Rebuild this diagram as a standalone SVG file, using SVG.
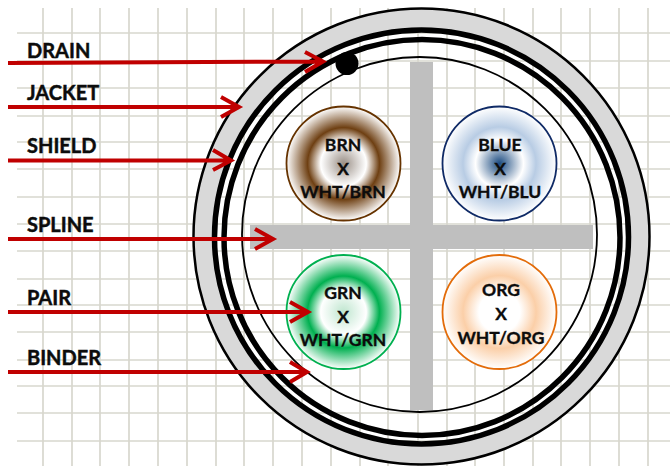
<svg xmlns="http://www.w3.org/2000/svg" width="670" height="466" viewBox="0 0 670 466">
<style>
.g{stroke:#d8d7ce;stroke-width:1.7;fill:none}
.l{font-family:"Lato","Liberation Sans",sans-serif;font-weight:700;font-size:20px;fill:#0c0c0c;stroke:#0c0c0c;stroke-width:.45}
.c{font-family:"Lato","Liberation Sans",sans-serif;font-weight:700;font-size:17.5px;fill:#0c0c0c;stroke:#0c0c0c;stroke-width:.35;text-anchor:middle}
.a{stroke:#c00000;stroke-width:4;fill:none}
</style>
<defs>
<radialGradient id="gb"><stop offset="0" stop-color="#9a8f86"/><stop offset=".4" stop-color="#fff"/><stop offset=".63" stop-color="#6e3f12"/><stop offset="1" stop-color="#fff"/></radialGradient>
<radialGradient id="gu"><stop offset="0" stop-color="#1a4a80"/><stop offset=".42" stop-color="#fff"/><stop offset=".64" stop-color="#b8cce4"/><stop offset="1" stop-color="#fff"/></radialGradient>
<radialGradient id="gg"><stop offset="0" stop-color="#bfe6cf"/><stop offset=".4" stop-color="#fff"/><stop offset=".63" stop-color="#00b050"/><stop offset="1" stop-color="#fff"/></radialGradient>
<radialGradient id="go"><stop offset="0" stop-color="#fff"/><stop offset=".36" stop-color="#fff"/><stop offset=".64" stop-color="#fbcfa8"/><stop offset="1" stop-color="#fff"/></radialGradient>
</defs>
<rect width="670" height="466" fill="#fff"/>
<path class="g" d="M43 8V466M72 8V466M100 8V466M129 8V466M158 8V466M187 8V466M216 8V466M244 8V466M273 8V466M302 8V466M331 8V466M360 8V466M388 8V466M418 8V466M447 8V466M475 8V466M504 8V466M533 8V466M561 8V466M590 8V466M619 8V466M648 8V466M17 33H670M17 61H670M17 88H670M17 116H670M17 142H670M17 169H670M17 197H670M17 224H670M17 251H670M17 279H670M17 305H670M17 332H670M17 360H670M17 386H670M17 413H670M17 441H670"/>
<g id="jacket"><circle cx="421.5" cy="236.5" r="218" fill="none" stroke="#d9d9d9" stroke-width="20"/><circle cx="421.5" cy="236.5" r="228" fill="none" stroke="#000" stroke-width="2.5"/></g>
<g id="shield"><circle cx="421.5" cy="237" r="207" fill="none" stroke="#000" stroke-width="5.5"/><circle cx="422" cy="237.5" r="198" fill="none" stroke="#000" stroke-width="5.5"/></g>
<g id="binder"><circle cx="419.5" cy="234.5" r="177.5" fill="none" stroke="#000" stroke-width="1.8"/></g>
<g id="spline"><path fill="#bfbfbf" d="M410 62H433V225H593V249H433V410H410V249H250V225H410Z"/></g>
<g id="drain"><circle cx="347" cy="63.500" r="11.500" fill="#000"/></g>
<g id="pair-brn"><circle cx="343.500" cy="163.500" r="57" fill="url(#gb)" stroke="#663300" stroke-width="1.800"/><text class="c" x="343" y="151">BRN</text><text class="c" x="343" y="175">X</text><text class="c" x="343" y="198">WHT/BRN</text></g>
<g id="pair-blue"><circle cx="499.500" cy="163.500" r="57" fill="url(#gu)" stroke="#0f2a66" stroke-width="1.800"/><text class="c" x="500" y="151">BLUE</text><text class="c" x="500" y="175">X</text><text class="c" x="500" y="198">WHT/BLU</text></g>
<g id="pair-grn"><circle cx="343.500" cy="312" r="57" fill="url(#gg)" stroke="#00b050" stroke-width="1.800"/><text class="c" x="343" y="299">GRN</text><text class="c" x="343" y="323">X</text><text class="c" x="343" y="346">WHT/GRN</text></g>
<g id="pair-org"><circle cx="499.500" cy="312" r="57" fill="url(#go)" stroke="#e36c0a" stroke-width="1.800"/><text class="c" x="501" y="296">ORG</text><text class="c" x="501" y="320">X</text><text class="c" x="501" y="344">WHT/ORG</text></g>
<g id="labels"><text class="l" x="27" y="58">DRAIN</text><text class="l" x="27" y="100">JACKET</text><text class="l" x="27" y="153">SHIELD</text><text class="l" x="27" y="232">SPLINE</text><text class="l" x="27" y="305">PAIR</text><text class="l" x="27" y="365">BINDER</text></g>
<g id="connectors">
<path class="a" d="M8 63L323 61.500M305 52L323 61.500L305 72"/>
<path class="a" d="M8 107H239M221 97L239 107L221 117"/>
<path class="a" d="M8 160.500H231M213 150L231 160.500L213 170"/>
<path class="a" d="M8 239H273M255 229L273 239L255 249"/>
<path class="a" d="M8 312H308M290 302L308 312L290 322"/>
<path class="a" d="M8 372H307M290 362L307 372L290 382"/>
</g>
</svg>
